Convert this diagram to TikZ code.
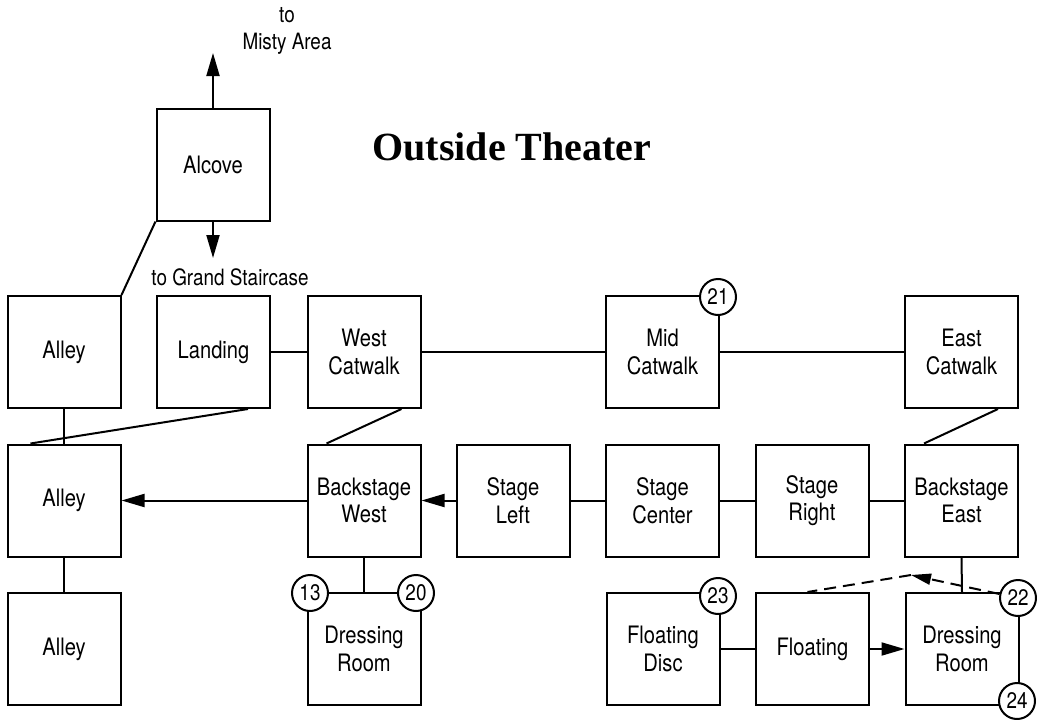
\documentclass[tikz,border=0pt]{standalone}
\usepackage{fontspec}
\newfontfamily\lab[FakeStretch=0.84]{TeX Gyre Heros}
\newfontfamily\ttl{Liberation Serif}
\usetikzlibrary{arrows.meta,calc}
\begin{document}
\begin{tikzpicture}[x=1pt,y=-1pt,
 room/.style={draw,line width=2pt,minimum width=113pt,minimum height=112pt,inner sep=0pt,align=center,font=\lab\fontsize{24}{27.5}\selectfont,fill=white},
 num/.style={circle,draw,line width=2pt,fill=white,minimum size=36pt,inner sep=0pt,font=\lab\fontsize{22.5}{22.5}\selectfont},
 link/.style={line width=2pt},
 arr/.style={line width=2pt,-{Triangle[length=23pt,width=13pt]}},
 note/.style={font=\lab\fontsize{22.5}{27}\selectfont,align=center,inner sep=0pt}]
\useasboundingbox (0,0) rectangle (1037,720);
\fill[white] (0,0) rectangle (1037,720);

\node[room] (alcove) at (213,164.5) {Alcove};
\node[room] (alley1) at (64,352) {Alley};
\node[room] (landing) at (213.5,352) {Landing};
\node[room] (wcat) at (364,352) {West\\Catwalk};
\node[room] (mcat) at (662.5,352) {Mid\\Catwalk};
\node[room] (ecat) at (961.5,352) {East\\Catwalk};
\node[room] (alley2) at (64,500.5) {Alley};
\node[room] (bsw) at (364,500.5) {Backstage\\West};
\node[room] (sl) at (513,500.5) {Stage\\Left};
\node[room] (sc) at (662.5,500.5) {Stage\\Center};
\node[room] (sr) at (812,500.5) {Stage\\Right};
\node[room] (bse) at (961.5,500.5) {Backstage\\East};
\node[room] (alley3) at (64,649) {Alley};
\node[room] (drw) at (364,649) {Dressing\\Room};
\node[room] (fdisc) at (663,649) {Floating\\Disc};
\node[room] (fl) at (812.5,649) {Floating};
\node[room] (dre) at (962,649) {Dressing\\Room};

\node[num] (c21) at (718,297) {21};
\node[num] (c13) at (310,593) {13};
\node[num] (c20) at (416,593) {20};
\node[num] (c23) at (718,596) {23};
\node[num] (c22) at (1018,598) {22};
\node[num] (c24) at (1017,701) {24};

\node[font=\ttl\bfseries\fontsize{40}{40}\selectfont] (title) at (512,147) {Outside Theater};
\node[note] (misty) at (287,31) {to\\Misty Area};
\node[note] (grand) at (230,277) {to Grand Staircase};

\coordinate (mistytip) at (213,53);
\coordinate (grandtip) at (213,258);
\draw[arr] (alcove.north) -- (mistytip);
\draw[arr] (alcove.south) -- (grandtip);

\draw[link] (alcove.south west) -- (alley1.north east);
\draw[link] (landing.east) -- (wcat.west);
\draw[link] (wcat.east) -- (mcat.west);
\draw[link] (mcat.east) -- (ecat.west);
\draw[link] (alley1.south) -- (alley2.north);
\draw[link] ([xshift=-23pt]landing.south east) -- ([xshift=24pt]alley2.north west);
\draw[link] ([xshift=-20pt]wcat.south east) -- ([xshift=20pt]bsw.north west);
\draw[link] ([xshift=-21pt]ecat.south east) -- ([xshift=20pt]bse.north west);
\draw[arr] (bsw.west) -- (alley2.east);
\draw[arr] (sl.west) -- (bsw.east);
\draw[link] (sl.east) -- (sc.west);
\draw[link] (sc.east) -- (sr.west);
\draw[link] (sr.east) -- (bse.west);
\draw[link] (alley2.south) -- (alley3.north);
\draw[link] (bsw.south) -- (drw.north);
\draw[link] (bse.south) -- (dre.north);
\draw[link] (fdisc.east) -- (fl.west);
\draw[arr] (fl.east) -- (dre.west);

\coordinate (peak) at (911,575);
\draw[link,dash pattern=on 12pt off 7pt,-{Triangle[length=20pt,width=11pt]}] (c22) -- (peak);
\draw[link,dash pattern=on 12pt off 7pt] (peak) -- ([xshift=-5pt]fl.north);
\end{tikzpicture}
\end{document}
